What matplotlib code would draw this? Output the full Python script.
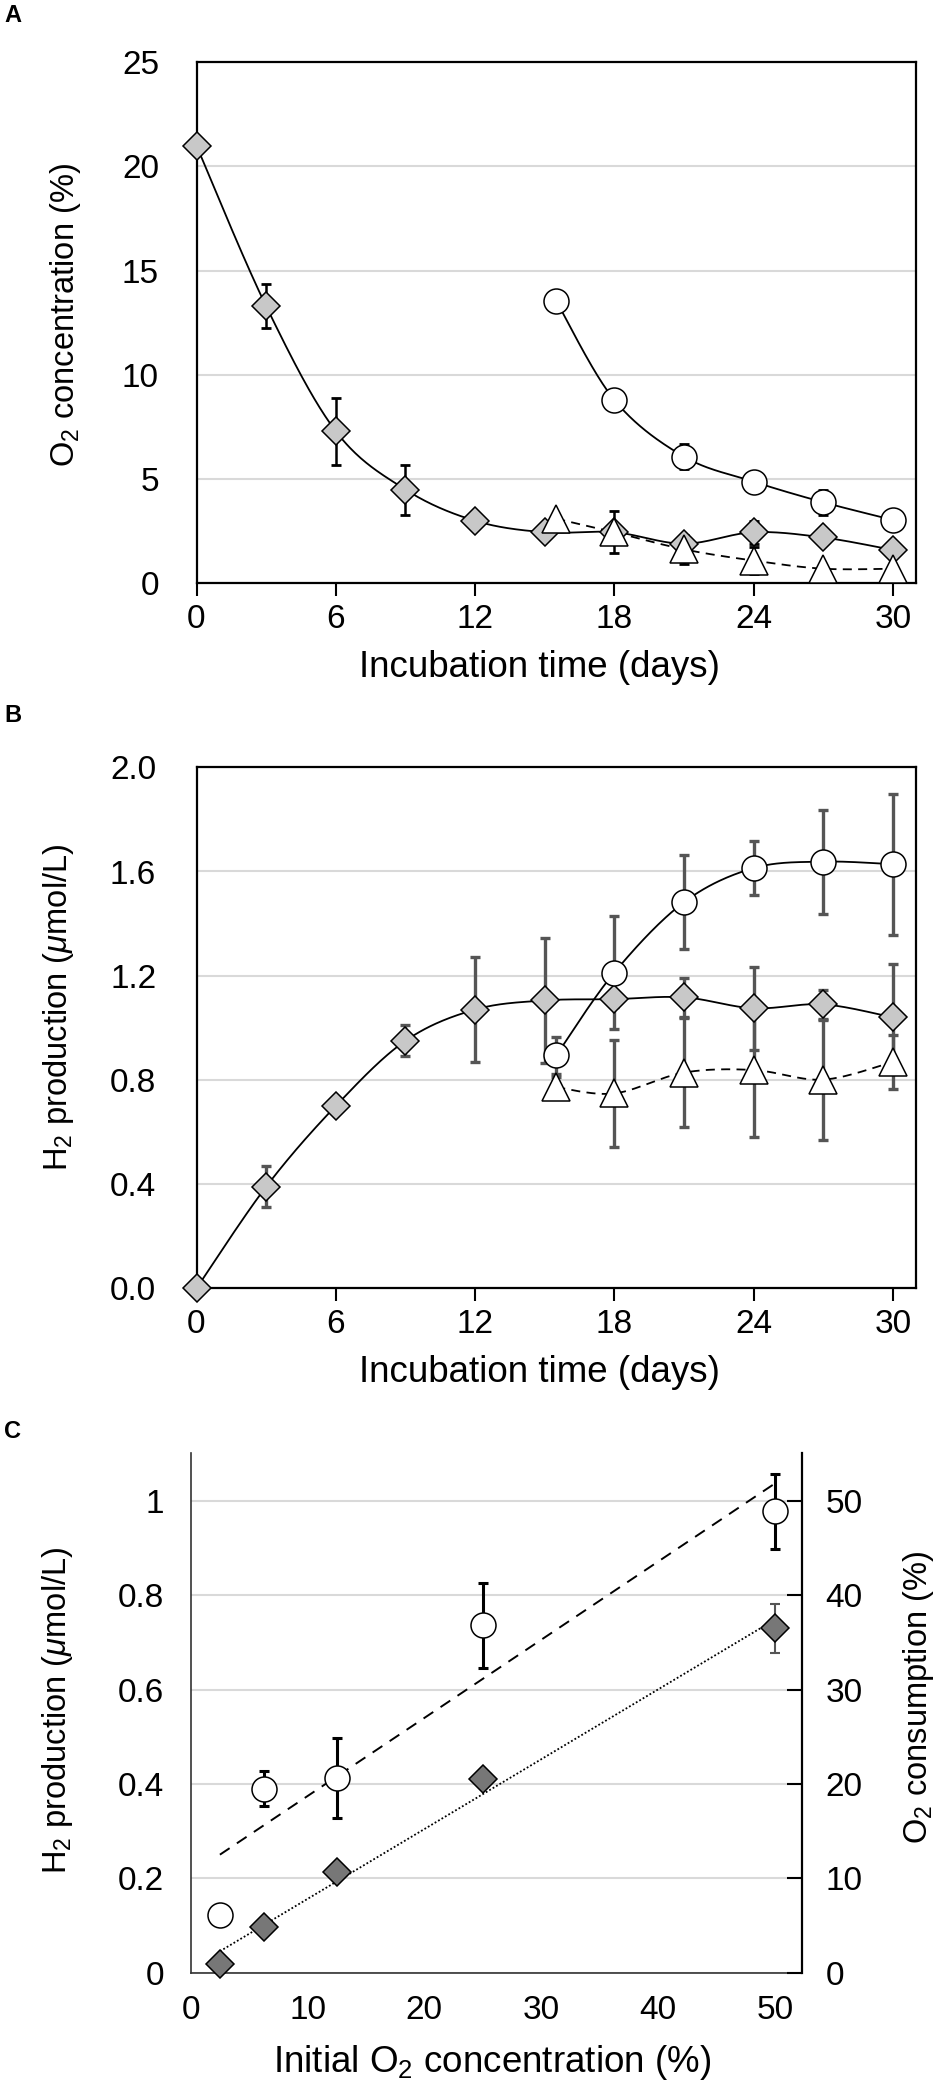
import numpy as np
import matplotlib
matplotlib.use("Agg")
import matplotlib.pyplot as plt

plt.rcParams['font.family'] = ['Liberation Sans', 'DejaVu Sans']
plt.rcParams['mathtext.fontset'] = 'custom'
plt.rcParams['mathtext.rm'] = 'Liberation Sans'
plt.rcParams['mathtext.it'] = 'Liberation Sans:italic'
plt.rcParams['mathtext.default'] = 'regular'

# ---------------- data ----------------
# Panel A: O2 concentration (%)
days_full = [0, 3, 6, 9, 12, 15, 18, 21, 24, 27, 30]
o2_diam = [21.0, 13.3, 7.3, 4.5, 3.0, 2.45, 2.45, 1.9, 2.45, 2.2, 1.6]
o2_diam_err = [0, 1.05, 1.6, 1.2, 0, 0, 0, 0.3, 0.55, 0, 0]
days_late = [15.5, 18, 21, 24, 27, 30]
o2_circ = [13.55, 8.8, 6.08, 4.88, 3.89, 3.04]
o2_circ_err = [0, 0, 0.6, 0, 0.6, 0]
o2_tri = [3.1, 2.45, 1.63, 1.09, 0.7, 0.7]
o2_tri_err = [0, 1.0, 0.7, 0.65, 0, 0]

# Panel B: H2 production (umol/L)
h2_diam = [0.0, 0.39, 0.70, 0.95, 1.07, 1.105, 1.11, 1.117, 1.075, 1.09, 1.04]
h2_diam_err = [0, 0.078, 0, 0.06, 0.2, 0.24, 0.03, 0.075, 0.16, 0.056, 0.205]
h2_circ = [0.894, 1.212, 1.482, 1.613, 1.638, 1.628]
h2_circ_err = [0.07, 0.217, 0.18, 0.105, 0.2, 0.27]
h2_tri = [0.772, 0.748, 0.828, 0.838, 0.801, 0.869]
h2_tri_err = [0.04, 0.204, 0.21, 0.258, 0.23, 0.105]

# Panel C
init_o2 = [2.5, 6.25, 12.5, 25, 50]
h2_c = [0.122, 0.39, 0.412, 0.737, 0.978]
h2_c_err = [0, 0.037, 0.085, 0.09, 0.08]
o2_cons = [0.9, 4.8, 10.65, 20.5, 36.5]
o2_cons_err = [0, 0, 0, 0, 2.6]

xticks_ab = [0, 6, 12, 18, 24, 30]
yticks_a = [0, 5, 10, 15, 20, 25]
yticks_b = [0.0, 0.4, 0.8, 1.2, 1.6, 2.0]
yticklabels_b = ['0.0', '0.4', '0.8', '1.2', '1.6', '2.0']
xticks_c = [0, 10, 20, 30, 40, 50]
yticks_c_left = [0, 0.2, 0.4, 0.6, 0.8, 1.0]
yticklabels_c_left = ['0', '0.2', '0.4', '0.6', '0.8', '1']
yticks_c_right = [0, 10, 20, 30, 40, 50]


def smooth(x, y, sx, sy, n=40):
    """Catmull-Rom smoothed connecting line (Excel-like 'smoothed line')."""
    P = np.column_stack([np.asarray(x, float) / sx, np.asarray(y, float) / sy])
    out = []
    for i in range(len(P) - 1):
        p0 = P[i - 1] if i > 0 else P[i]
        p1, p2 = P[i], P[i + 1]
        p3 = P[i + 2] if i + 2 < len(P) else P[i + 1]
        t = np.linspace(0, 1, n)[:, None]
        seg = 0.5 * (2 * p1 + (-p0 + p2) * t + (2 * p0 - 5 * p1 + 4 * p2 - p3) * t ** 2
                     + (-p0 + 3 * p1 - 3 * p2 + p3) * t ** 3)
        out.append(seg if i == 0 else seg[1:])
    Q = np.vstack(out)
    return Q[:, 0] * sx, Q[:, 1] * sy


W, H = 945, 2084
fig = plt.figure(figsize=(W / 100, H / 100), dpi=100)

TICK_FS = 24
XLAB_FS = 26.5
YLAB_FS = 23.5
LIGHT = '#c8c8c8'
GRID = '#d9d9d9'


def fr(x0, x1, ytop, ybot):
    return [x0 / W, 1 - ybot / H, (x1 - x0) / W, (ybot - ytop) / H]


def style_time_axes(ax, ymax, yt, ytl, ypad):
    ax.set_xlim(0, 31.0)
    ax.set_ylim(0, ymax)
    ax.set_xticks(xticks_ab)
    ax.set_yticks(yt)
    if ytl is not None:
        ax.set_yticklabels(ytl)
    ax.tick_params(axis='x', direction='out', length=9, width=1.5, pad=6, labelsize=TICK_FS)
    ax.tick_params(axis='y', length=0, pad=ypad, labelsize=TICK_FS)
    ax.yaxis.grid(True, color=GRID, lw=1.5)
    ax.set_axisbelow(True)
    for s in ax.spines.values():
        s.set_linewidth(1.6)
        s.set_color('black')


eb_kw = dict(fmt='none', capsize=3.5, zorder=2)

# ---------------- Panel A ----------------
axA = fig.add_axes(fr(196.5, 916, 62.3, 583.3))
style_time_axes(axA, 25, yticks_a, None, 27)
sxA, syA = 31.0, 25.0 * 720 / 521
axA.errorbar(days_full, o2_diam, yerr=o2_diam_err, ecolor='black', elinewidth=1.8, capthick=2, **eb_kw)
axA.errorbar(days_late, o2_circ, yerr=o2_circ_err, ecolor='black', elinewidth=1.8, capthick=2, **eb_kw)
axA.errorbar(days_late, o2_tri, yerr=o2_tri_err, ecolor='black', elinewidth=1.8, capthick=2, **eb_kw)
xs, ys = smooth(days_full, o2_diam, sxA, syA)
axA.plot(xs, ys, color='black', lw=1.3, zorder=3)
xs, ys = smooth(days_late, o2_circ, sxA, syA)
axA.plot(xs, ys, color='black', lw=1.3, zorder=3)
xs, ys = smooth(days_late, o2_tri, sxA, syA)
axA.plot(xs, ys, color='black', lw=1.3, ls=(0, (5, 3.5)), zorder=3)
axA.plot(days_full, o2_diam, ls='none', marker='D', ms=14, mfc=LIGHT, mec='black', mew=1.1, zorder=4, clip_on=False)
axA.plot(days_late, o2_circ, ls='none', marker='o', ms=18, mfc='white', mec='black', mew=1.1, zorder=5, clip_on=False)
axA.plot(days_late, o2_tri, ls='none', marker='^', ms=20, mfc='white', mec='black', mew=1.1, zorder=5, clip_on=True)
axA.set_xlabel('Incubation time (days)', fontsize=XLAB_FS, va='center', ha='center')
axA.xaxis.set_label_coords((539 - 196.5) / 719.5, -0.1607)
axA.set_ylabel('O$_2$ concentration (%)', fontsize=YLAB_FS, va='center', ha='center')
axA.yaxis.set_label_coords((65 - 196.5) / 719.5, (583.3 - 315) / 521)

# ---------------- Panel B ----------------
axB = fig.add_axes(fr(196.5, 916, 767.3, 1288.3))
style_time_axes(axB, 2.0, yticks_b, yticklabels_b, 29)
sxB, syB = 31.0, 2.0 * 720 / 521
axB.errorbar(days_full, h2_diam, yerr=h2_diam_err, ecolor='#555555', elinewidth=2.4, capthick=2.4, **eb_kw)
axB.errorbar(days_late, h2_circ, yerr=h2_circ_err, ecolor='#555555', elinewidth=2.4, capthick=2.4, **eb_kw)
axB.errorbar(days_late, h2_tri, yerr=h2_tri_err, ecolor='#555555', elinewidth=2.4, capthick=2.4, **eb_kw)
xs, ys = smooth(days_full, h2_diam, sxB, syB)
axB.plot(xs, ys, color='black', lw=1.3, zorder=3)
xs, ys = smooth(days_late, h2_circ, sxB, syB)
axB.plot(xs, ys, color='black', lw=1.3, zorder=3)
xs, ys = smooth(days_late, h2_tri, sxB, syB)
axB.plot(xs, ys, color='black', lw=1.3, ls=(0, (5, 3.5)), zorder=3)
axB.plot(days_full, h2_diam, ls='none', marker='D', ms=14, mfc=LIGHT, mec='black', mew=1.1, zorder=4, clip_on=False)
axB.plot(days_late, h2_circ, ls='none', marker='o', ms=18, mfc='white', mec='black', mew=1.1, zorder=5)
axB.plot(days_late, h2_tri, ls='none', marker='^', ms=20, mfc='white', mec='black', mew=1.1, zorder=5)
axB.set_xlabel('Incubation time (days)', fontsize=XLAB_FS, va='center', ha='center')
axB.xaxis.set_label_coords((539 - 196.5) / 719.5, -0.1607)
axB.set_ylabel(r'H$_2$ production ($\mathit{\mu}$mol/L)', fontsize=YLAB_FS, va='center', ha='center')
axB.yaxis.set_label_coords((58.5 - 196.5) / 719.5, (1288.3 - 1007) / 521)

# ---------------- Panel C ----------------
axC = fig.add_axes(fr(190.7, 801.7, 1453, 1972.7))
axC.set_xlim(0, 52.3)
axC.set_ylim(0, 1.102)
axC.set_xticks(xticks_c)
axC.set_yticks(yticks_c_left)
axC.set_yticklabels(yticklabels_c_left)
axC.tick_params(axis='x', length=0, pad=16, labelsize=TICK_FS)
axC.tick_params(axis='y', length=0, pad=19, labelsize=TICK_FS)
axC.yaxis.grid(True, color=GRID, lw=1.5)
axC.set_axisbelow(True)
axC.spines['top'].set_visible(False)
axC.spines['right'].set_visible(False)
for s in ('left', 'bottom'):
    axC.spines[s].set_linewidth(1.2)
    axC.spines[s].set_color('#333333')

axCr = axC.twinx()
axCr.set_ylim(0, 1.102 * 50)
axCr.set_yticks(yticks_c_right)
axCr.tick_params(axis='y', direction='in', length=11, width=1.5, pad=17, labelsize=TICK_FS)
axCr.spines['top'].set_visible(False)
axCr.spines['left'].set_visible(False)
axCr.spines['bottom'].set_visible(False)
axCr.spines['right'].set_linewidth(1.6)

# linear fits
x_fit = np.array([init_o2[0], init_o2[-1]])
k1, b1 = np.polyfit(init_o2, h2_c, 1)
axC.plot(x_fit, k1 * x_fit + b1, color='black', lw=1.4, ls=(0, (6, 4.5)), zorder=3)
k2, b2 = np.polyfit(init_o2, o2_cons, 1)
axCr.plot(x_fit, k2 * x_fit + b2, color='black', lw=1.3, ls=(0, (1, 1.2)), zorder=3)

axC.errorbar(init_o2, h2_c, yerr=h2_c_err, ecolor='black', elinewidth=2.2, capthick=2.2, **eb_kw)
axC.plot(init_o2, h2_c, ls='none', marker='o', ms=18, mfc='white', mec='black', mew=1.1, zorder=5)
axCr.errorbar(init_o2, o2_cons, yerr=o2_cons_err, ecolor='#555555', elinewidth=1.5, capthick=1.5, **eb_kw)
axCr.plot(init_o2, o2_cons, ls='none', marker='D', ms=14, mfc='#777777', mec='black', mew=1.1, zorder=5, clip_on=False)

axC.set_xlabel('Initial O$_2$ concentration (%)', fontsize=XLAB_FS, va='center', ha='center')
axC.xaxis.set_label_coords((492 - 190.7) / 611, -89.3 / 519.7)
axC.set_ylabel(r'H$_2$ production ($\mathit{\mu}$mol/L)', fontsize=YLAB_FS, va='center', ha='center')
axC.yaxis.set_label_coords((57.5 - 190.7) / 611, 0.505)
axCr.set_ylabel('O$_2$ consumption (%)', fontsize=YLAB_FS, va='center', ha='center', rotation=90)
axCr.yaxis.set_label_coords((919 - 190.7) / 611, 0.53)

# panel letters
fig.text(4 / W, 1 - 15 / H, 'A', fontsize=17, fontweight='bold', ha='left', va='center')
fig.text(4 / W, 1 - 715 / H, 'B', fontsize=17, fontweight='bold', ha='left', va='center')
fig.text(4 / W, 1 - 1432 / H, 'C', fontsize=17, fontweight='bold', ha='left', va='center')

fig.savefig('out.png', dpi=100)
